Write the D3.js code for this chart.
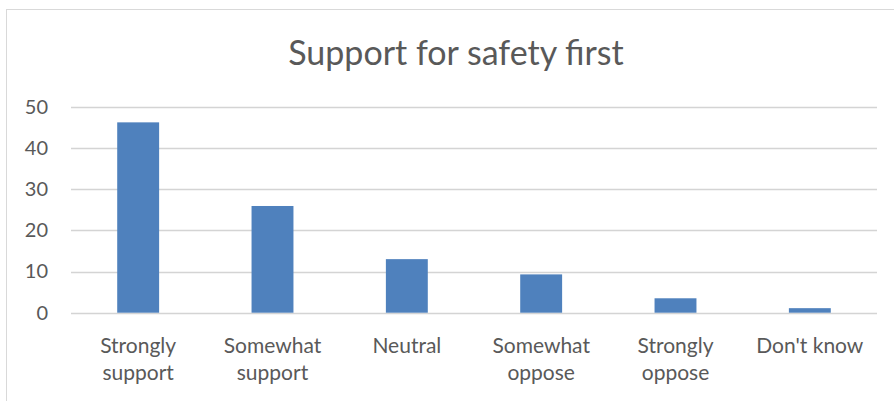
<!DOCTYPE html>
<html>
<head>
<meta charset="utf-8">
<script src="https://cdn.jsdelivr.net/npm/d3@7"></script>
<style>
  html, body { margin: 0; padding: 0; background: #ffffff; }
  svg { display: block; }
  text { font-family: Lato, "Open Sans", sans-serif; fill: #595959; }
</style>
</head>
<body>
<svg id="chart" width="894" height="401"></svg>
<script>
// Survey responses (percent)
const categories = [
  ["Strongly", "support"],
  ["Somewhat", "support"],
  ["Neutral"],
  ["Somewhat", "oppose"],
  ["Strongly", "oppose"],
  ["Don't know"]
];
const values = [46.2, 25.9, 13.0, 9.3, 3.5, 1.1];
const yTicks = [0, 10, 20, 30, 40, 50];
const title = "Support for safety first";

const svg = d3.select("#chart");
const W = 894, H = 401;
const plot = { left: 71, right: 877, top: 106.7, bottom: 312.7 };

// chart frame
svg.append("rect")
  .attr("x", 6.5).attr("y", 9.5)
  .attr("width", W + 20).attr("height", H + 20)
  .attr("fill", "#ffffff")
  .attr("stroke", "#d9d9d9").attr("stroke-width", 1);

const keys = categories.map(c => c.join(" "));
const x = d3.scaleBand().domain(keys).range([plot.left, plot.right]).padding(0);
const y = d3.scaleLinear().domain([0, 50]).range([plot.bottom, plot.top]);

// gridlines
svg.append("g")
  .selectAll("line")
  .data(yTicks)
  .join("line")
  .attr("x1", plot.left).attr("x2", plot.right)
  .attr("y1", d => Math.round(y(d)) + 0.5).attr("y2", d => Math.round(y(d)) + 0.5)
  .attr("stroke", "#d4d4d4").attr("stroke-width", 1.4);

// y-axis labels
const yAxis = d3.axisLeft(y).tickValues(yTicks).tickSize(0).tickPadding(0);
const gy = svg.append("g").attr("transform", `translate(${48},0)`).call(yAxis);
gy.select(".domain").remove();
gy.selectAll("text")
  .attr("font-family", "Lato, 'Open Sans', sans-serif")
  .attr("font-size", 20)
  .attr("fill", "#595959");

// bars
const barW = x.bandwidth() * 0.312;
svg.append("g")
  .selectAll("rect")
  .data(values)
  .join("rect")
  .attr("x", (d, i) => x(keys[i]) + (x.bandwidth() - barW) / 2)
  .attr("y", d => y(d))
  .attr("width", barW)
  .attr("height", d => y(0) - y(d))
  .attr("fill", "#4f81bd");

// category labels
const xl = svg.append("g");
categories.forEach((lines, i) => {
  const t = xl.append("text")
    .attr("x", x(keys[i]) + x.bandwidth() / 2)
    .attr("y", 353)
    .attr("text-anchor", "middle")
    .attr("font-size", 21);
  lines.forEach((ln, j) => {
    t.append("tspan")
      .attr("x", x(keys[i]) + x.bandwidth() / 2)
      .attr("dy", j === 0 ? 0 : 27)
      .text(ln);
  });
});

// title
svg.append("text")
  .attr("x", 456)
  .attr("y", 65)
  .attr("text-anchor", "middle")
  .attr("font-size", 34)
  .text(title);
</script>
</body>
</html>
